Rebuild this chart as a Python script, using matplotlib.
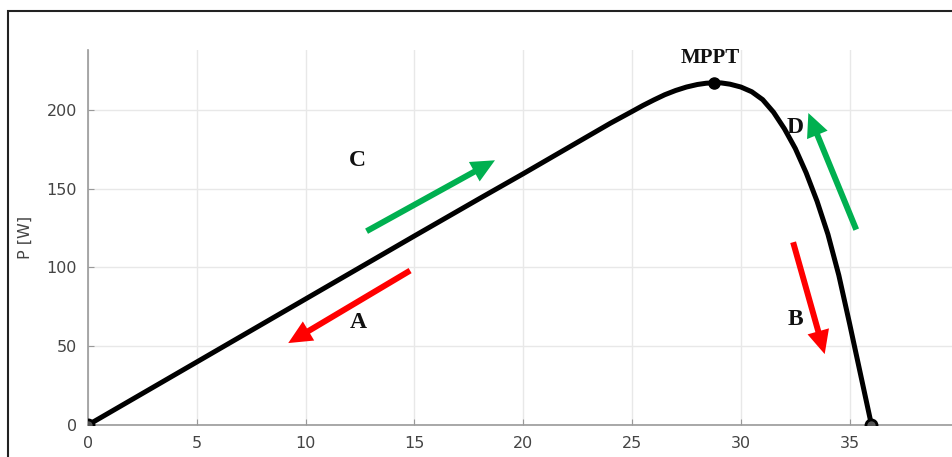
import matplotlib.pyplot as plt
from matplotlib.patches import Rectangle

# P-V curve
voltage = [0, 5, 10, 15, 18, 20, 22, 24, 25, 25.5, 26, 26.5, 27, 27.5, 28, 28.4,
           28.75, 29.1, 29.5, 30.0, 30.5, 31.0, 31.5, 32.0, 32.5, 33.0, 33.5,
           34.0, 34.5, 35.0, 35.5, 36.0]
power = [0, 40, 80, 120, 143.8, 159.5, 175.5, 191.5, 199, 202.8, 206.3, 209.6,
         212.3, 214.5, 216.1, 216.9, 217.2, 217.1, 216.3, 214.5, 211.5, 206.5,
         198.5, 188, 175.5, 160, 142, 121, 95, 64, 32, 0]

mpp_v, mpp_p = 28.75, 217
ends_v = [0, 36.0]
ends_p = [0, 0]

# direction arrows: (start, end, colour, label, label position)
arrows = [
    ((12.8, 123), (18.7, 168), "#00b050", "C", (12.4, 168)),
    ((14.8, 98), (9.2, 52), "#ff0000", "A", (12.4, 65)),
    ((35.3, 124), (33.1, 198), "#00b050", "D", (32.5, 189)),
    ((32.4, 116), (33.85, 45), "#ff0000", "B", (32.5, 67)),
]

xticks = [0, 5, 10, 15, 20, 25, 30, 35]
yticks = [0, 50, 100, 150, 200]

fig = plt.figure(figsize=(9.52, 4.57), dpi=100)
ax = fig.add_axes([88 / 952, 32 / 457, 1 - 88 / 952, 375 / 457])

ax.grid(True, color="#e8e8e8", linewidth=1)
ax.set_axisbelow(True)
ax.plot(voltage, power, color="black", linewidth=3.6, solid_capstyle="round",
        solid_joinstyle="round", zorder=3)
ax.plot(ends_v, ends_p, "o", markersize=8, markerfacecolor="#555555",
        markeredgecolor="black", markeredgewidth=2, zorder=4)
ax.plot([mpp_v], [mpp_p], "o", color="black", markersize=8, zorder=4)

for (x0, y0), (x1, y1), col, lab, (lx, ly) in arrows:
    ax.annotate("", xy=(x1, y1), xytext=(x0, y0),
                arrowprops=dict(width=4.3, headwidth=16, headlength=17,
                                facecolor=col, edgecolor="none",
                                shrink=0), zorder=5)
    ax.text(lx, ly, lab, fontsize=17, fontweight="bold", family="Liberation Serif",
            ha="center", va="center", color="#111111", zorder=6)

ax.text(mpp_v - 0.15, 233, "MPPT", fontsize=15, fontweight="bold",
        family="Liberation Serif", ha="center", va="center", color="#111111")

ax.set_xlim(0, 39.7)
ax.set_ylim(0, 238)
ax.set_xticks(xticks)
ax.set_yticks(yticks)
ax.tick_params(direction="in", length=4, color="#999999", labelcolor="#444444",
               labelsize=11.5, pad=8)
for side in ["top", "right"]:
    ax.spines[side].set_visible(False)
for side in ["left", "bottom"]:
    ax.spines[side].set_color("#999999")
    ax.spines[side].set_linewidth(1.2)

ax.set_ylabel("P [W]", fontsize=11.5, color="#444444", labelpad=10)

# black frame around the figure
fig.patches.append(Rectangle((8 / 952, -0.1), 1.2, (446 / 457) + 0.1,
                             transform=fig.transFigure, fill=False,
                             edgecolor="#222222", linewidth=1.5))

plt.savefig("out.png", dpi=100)
